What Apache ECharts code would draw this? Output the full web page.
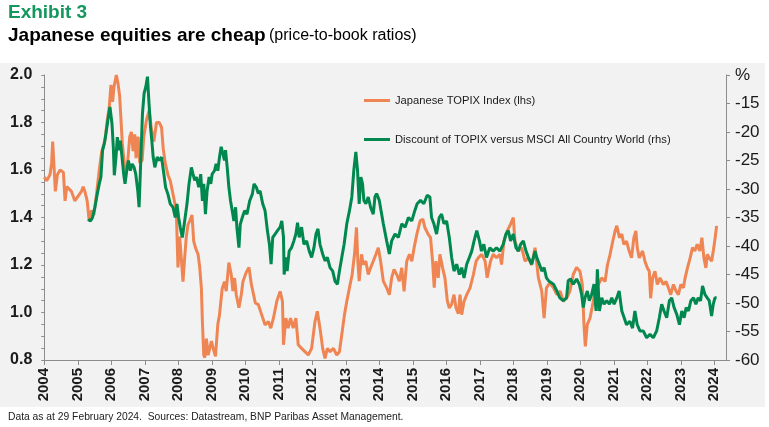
<!DOCTYPE html>
<html>
<head>
<meta charset="utf-8">
<script src="https://cdn.jsdelivr.net/npm/echarts@6/dist/echarts.min.js"></script>
<style>
html,body{margin:0;padding:0;background:#fff;}
#chart{width:769px;height:427px;}
</style>
</head>
<body>
<div id="chart"></div>
<script>
// Year ticks on the x axis
const yearTicks = [2004,2005,2006,2007,2008,2009,2010,2011,2012,2013,2014,2015,2016,2017,2018,2019,2020,2021,2022,2023,2024];
const leftTicks = [0.8,1.0,1.2,1.4,1.6,1.8,2.0];
const rightTicks = [-60,-55,-50,-45,-40,-35,-30,-25,-20,-15,-10];

// Japanese TOPIX Index price-to-book (lhs)
const topixYears = [
2004.00,2004.07,2004.17,2004.22,2004.25,2004.30,2004.33,2004.39,2004.47,2004.57,2004.62,2004.67,2004.81,2004.91,
2005.01,2005.11,2005.16,2005.21,2005.28,2005.34,2005.41,2005.48,2005.56,2005.64,2005.71,2005.81,2005.88,2005.94,2005.99,
2006.04,2006.08,2006.15,2006.20,2006.25,2006.33,2006.40,2006.47,2006.55,2006.60,2006.65,2006.70,2006.74,2006.80,2006.85,2006.92,2006.97,
2007.05,2007.13,2007.20,2007.27,2007.35,2007.43,2007.50,2007.55,2007.61,2007.69,2007.76,2007.84,2007.94,2007.99,
2008.04,2008.11,2008.14,2008.19,2008.24,2008.29,2008.34,2008.41,2008.46,2008.52,2008.59,2008.64,2008.69,2008.72,2008.76,2008.79,2008.84,2008.89,2008.94,2008.99,
2009.03,2009.11,2009.18,2009.23,2009.31,2009.38,2009.43,2009.51,2009.58,2009.63,2009.68,2009.73,2009.81,2009.88,2009.93,
2010.03,2010.11,2010.18,2010.30,2010.39,2010.49,2010.59,2010.69,2010.76,2010.84,2010.94,
2011.04,2011.11,2011.14,2011.21,2011.28,2011.35,2011.43,2011.51,2011.58,2011.68,2011.78,2011.88,2011.98,
2012.08,2012.15,2012.23,2012.31,2012.38,2012.45,2012.53,2012.63,2012.73,2012.81,2012.88,2012.96,
2013.03,2013.11,2013.19,2013.26,2013.32,2013.36,2013.40,2013.47,2013.52,2013.60,2013.67,2013.74,2013.82,2013.90,2013.97,
2014.04,2014.12,2014.22,2014.30,2014.37,2014.44,2014.52,2014.60,2014.67,2014.74,2014.82,2014.90,2014.97,
2015.04,2015.12,2015.22,2015.30,2015.36,2015.46,2015.53,2015.59,2015.64,2015.69,2015.76,2015.81,2015.89,2015.96,
2016.03,2016.09,2016.16,2016.23,2016.29,2016.36,2016.41,2016.46,2016.53,2016.61,2016.71,2016.81,2016.89,2016.96,
2017.06,2017.16,2017.22,2017.32,2017.40,2017.50,2017.60,2017.65,2017.72,2017.82,2017.92,
2018.00,2018.05,2018.15,2018.25,2018.35,2018.45,2018.55,2018.65,2018.75,2018.85,2018.92,2018.99,
2019.09,2019.20,2019.30,2019.40,2019.49,2019.59,2019.69,2019.79,2019.89,2019.99,
2020.06,2020.11,2020.15,2020.21,2020.29,2020.37,2020.44,2020.54,2020.64,2020.74,2020.81,2020.89,2020.97,
2021.04,2021.09,2021.17,2021.24,2021.30,2021.38,2021.46,2021.53,2021.60,2021.66,2021.70,2021.76,2021.86,2021.93,
2022.00,2022.06,2022.10,2022.16,2022.23,2022.30,2022.38,2022.48,2022.56,2022.63,2022.70,2022.78,2022.86,2022.93,
2023.00,2023.08,2023.13,2023.20,2023.28,2023.35,2023.42,2023.49,2023.57,2023.63,2023.69,2023.75,2023.79,2023.85,2023.92,2023.97,
2024.00,2024.04,2024.07
];
const topixValues = [
1.57,1.555,1.58,1.63,1.72,1.72,1.51,1.58,1.60,1.59,1.47,1.53,1.51,1.47,
1.49,1.51,1.53,1.51,1.47,1.385,1.43,1.41,1.50,1.60,1.675,1.725,1.81,1.866,1.958,
1.887,1.95,2.0,1.965,1.91,1.71,1.61,1.60,1.74,1.76,1.68,1.75,1.65,1.74,1.63,1.64,1.74,
1.81,1.85,1.77,1.72,1.80,1.80,1.78,1.69,1.63,1.58,1.555,1.50,1.43,1.19,
1.32,1.19,1.13,1.23,1.32,1.37,1.385,1.41,1.30,1.27,1.245,1.19,1.10,0.96,0.82,0.81,0.89,0.82,0.85,0.88,
0.855,0.815,0.95,0.99,1.10,1.13,1.09,1.21,1.16,1.09,1.145,1.075,1.02,1.075,1.13,
1.17,1.19,1.12,1.04,1.033,0.99,0.948,0.962,0.934,0.976,1.047,
1.089,1.047,0.864,0.976,0.934,0.976,0.934,0.976,0.864,0.849,0.835,0.821,0.849,
0.962,1.005,0.934,0.849,0.807,0.849,0.835,0.849,0.821,0.835,0.906,0.99,
1.047,1.104,1.16,1.245,1.358,1.216,1.132,1.245,1.202,1.216,1.16,1.188,1.216,1.245,1.273,
1.216,1.132,1.104,1.075,1.146,1.181,1.16,1.132,1.188,1.089,1.216,1.245,1.216,
1.273,1.329,1.386,1.393,1.358,1.329,1.315,1.216,1.105,1.216,1.146,1.245,1.188,1.146,
1.05,1.019,1.035,1.075,1.019,0.995,1.075,0.991,1.047,1.075,1.104,1.16,1.216,1.231,
1.245,1.216,1.146,1.216,1.245,1.231,1.245,1.202,1.30,1.344,1.372,
1.40,1.30,1.259,1.273,1.216,1.23,1.20,1.273,1.146,1.09,0.976,1.104,
1.125,1.104,1.075,1.09,1.047,1.06,1.09,1.16,1.19,1.174,
1.118,0.95,0.857,0.95,0.976,1.033,1.09,1.118,1.146,1.13,1.20,1.245,1.30,
1.344,1.365,1.315,1.33,1.287,1.30,1.259,1.23,1.315,1.344,1.273,1.23,1.259,1.216,
1.188,1.174,1.06,1.146,1.174,1.118,1.146,1.118,1.13,1.104,1.075,1.118,1.09,1.075,
1.118,1.104,1.146,1.188,1.23,1.273,1.259,1.287,1.259,1.315,1.23,1.188,1.245,1.23,1.216,1.259,
1.287,1.33,1.365
];

// Discount of TOPIX versus MSCI All Country World, % (rhs)
const discYears = [
2005.31,2005.38,2005.44,2005.51,2005.58,2005.64,2005.69,2005.74,2005.79,2005.84,2005.91,2005.96,
2006.02,2006.06,2006.09,2006.14,2006.18,2006.23,2006.27,2006.32,2006.37,2006.41,2006.46,2006.51,2006.57,2006.62,2006.68,2006.73,2006.79,2006.83,2006.88,2006.93,2006.98,
2007.03,2007.08,2007.12,2007.17,2007.21,2007.25,2007.30,2007.37,2007.43,2007.50,2007.57,2007.62,2007.69,2007.76,2007.84,2007.91,2007.96,
2008.01,2008.06,2008.12,2008.19,2008.26,2008.32,2008.39,2008.44,2008.49,2008.54,2008.61,2008.67,2008.72,2008.76,2008.81,2008.86,2008.92,2008.97,
2009.01,2009.08,2009.13,2009.18,2009.23,2009.28,2009.33,2009.38,2009.41,2009.46,2009.51,2009.56,2009.61,2009.66,2009.71,2009.75,2009.81,2009.85,2009.91,2009.98,
2010.05,2010.13,2010.21,2010.26,2010.33,2010.39,2010.44,2010.52,2010.59,2010.66,2010.72,2010.77,2010.82,2010.89,2010.96,
2011.04,2011.09,2011.14,2011.16,2011.22,2011.25,2011.31,2011.38,2011.45,2011.51,2011.56,2011.61,2011.68,2011.75,2011.83,2011.91,2011.98,
2012.05,2012.11,2012.17,2012.23,2012.31,2012.38,2012.45,2012.53,2012.61,2012.68,2012.75,2012.81,2012.88,2012.95,
2013.03,2013.11,2013.18,2013.24,2013.30,2013.35,2013.40,2013.45,2013.50,2013.54,2013.60,2013.67,2013.74,2013.82,2013.87,2013.92,
2014.00,2014.12,2014.22,2014.30,2014.37,2014.47,2014.57,2014.67,2014.77,2014.87,2014.97,
2015.06,2015.13,2015.23,2015.33,2015.43,2015.51,2015.56,2015.63,2015.71,2015.79,2015.86,2015.93,
2016.01,2016.09,2016.16,2016.23,2016.31,2016.39,2016.46,2016.53,2016.61,2016.69,2016.76,2016.83,2016.91,2016.99,
2017.05,2017.12,2017.20,2017.30,2017.40,2017.50,2017.60,2017.70,2017.78,2017.85,2017.92,
2018.00,2018.08,2018.15,2018.22,2018.30,2018.38,2018.45,2018.55,2018.65,2018.70,2018.78,2018.85,2018.92,2018.99,
2019.07,2019.20,2019.30,2019.39,2019.49,2019.59,2019.64,2019.71,2019.79,2019.89,2019.97,
2020.04,2020.09,2020.14,2020.21,2020.27,2020.34,2020.41,2020.47,2020.51,2020.57,2020.64,2020.71,2020.79,2020.87,2020.94,
2021.01,2021.09,2021.16,2021.24,2021.31,2021.38,2021.48,2021.56,2021.63,2021.70,2021.78,2021.88,2021.98,
2022.08,2022.18,2022.28,2022.36,2022.43,2022.50,2022.58,2022.66,2022.73,2022.80,2022.88,2022.96,
2023.03,2023.10,2023.16,2023.23,2023.30,2023.38,2023.45,2023.52,2023.59,2023.65,2023.72,2023.79,2023.85,2023.92,2023.97,
2024.02,2024.07
];
const discValues = [
-35.3,-35.6,-35.0,-33.2,-30.9,-29.1,-27.9,-23.2,-22.1,-20.3,-17.4,-15.6,
-18.5,-22.6,-27.6,-24.4,-20.9,-23.2,-21.5,-24.4,-27.4,-29.1,-26.8,-25.0,-26.8,-25.6,-26.2,-27.4,-30.3,-33.2,-25.0,-16.8,-13.2,
-12.1,-10.3,-14.4,-19.1,-21.5,-24.4,-26.2,-24.4,-25.0,-24.4,-27.4,-29.7,-30.9,-32.6,-33.2,-35.0,-32.6,
-35.0,-36.8,-38.5,-35.6,-32.6,-29.1,-26.2,-27.4,-28.5,-27.9,-29.7,-27.4,-32.1,-29.1,-34.4,-30.3,-27.9,-29.1,
-27.4,-26.8,-25.6,-26.8,-24.4,-22.6,-23.8,-25.0,-23.2,-26.2,-29.7,-32.1,-33.8,-35.6,-33.2,-36.8,-40.3,-36.2,-35.0,-33.8,
-34.4,-32.1,-30.9,-29.1,-29.7,-30.8,-30.3,-32.6,-33.8,-37.3,-39.7,-43.2,-38.5,-37.9,-37.3,
-36.7,-35.6,-38.5,-45.0,-42.0,-44.4,-40.9,-40.3,-39.1,-37.9,-35.9,-38.5,-36.7,-39.7,-39.1,-40.9,-42.0,
-40.3,-37.9,-37.0,-39.7,-41.4,-42.6,-42.0,-43.8,-44.4,-46.2,-46.7,-44.4,-42.0,-39.7,
-36.1,-33.8,-31.4,-26.7,-23.5,-26.7,-32.6,-27.9,-29.1,-32.0,-32.6,-31.4,-33.2,-34.4,-31.4,-30.8,
-32.0,-36.1,-39.1,-41.4,-39.1,-37.9,-38.5,-36.1,-36.7,-35.0,-35.6,
-33.8,-32.6,-32.0,-32.6,-31.1,-31.4,-35.0,-36.1,-37.9,-35.0,-34.4,-36.1,
-35.6,-38.5,-42.0,-44.4,-43.2,-45.0,-43.8,-45.6,-43.2,-42.0,-40.9,-39.1,-37.3,-39.1,
-40.9,-39.7,-42.0,-40.3,-40.9,-40.3,-40.9,-39.7,-37.9,-37.3,-39.1,
-37.9,-40.3,-40.9,-39.7,-39.1,-40.9,-42.0,-43.2,-40.9,-42.0,-43.2,-44.4,-43.8,-45.6,
-46.2,-46.7,-47.9,-49.1,-49.6,-49.1,-46.1,-45.8,-46.7,-45.8,-46.7,
-48.5,-50.8,-49.1,-47.9,-49.6,-48.5,-46.7,-51.4,-44.1,-51.4,-49.1,-50.2,-49.6,-50.2,-49.1,
-50.2,-49.1,-47.9,-51.4,-52.6,-53.8,-53.2,-54.4,-51.4,-53.8,-54.9,-54.9,-56.1,
-55.5,-56.1,-54.9,-52.6,-50.2,-51.4,-52.6,-49.6,-49.1,-50.8,-52.0,-53.8,
-51.4,-52.6,-50.8,-51.4,-49.6,-49.1,-50.2,-49.1,-49.6,-47.0,-48.5,-49.1,-49.6,-52.3,-50.2,
-49.1,-49.1
];

const ORANGE = '#EF8552';
const GREEN = '#00884F';
const AXIS = '#8c8c8c';
const TXT = '#1a1a1a';
const SANS = "'Liberation Sans',Arial,sans-serif";

const chart = echarts.init(document.getElementById('chart'), null, {renderer: 'canvas'});
const option = {
  animation: false,
  backgroundColor: '#ffffff',
  graphic: [
    {type: 'rect', z: -10, shape: {x: 0, y: 63, width: 765, height: 344}, style: {fill: '#f2f2f2'}, silent: true},
    {type: 'text', left: 8, top: 3, style: {text: 'Exhibit 3', fill: '#14985F', font: "bold 19px " + SANS}},
    {type: 'text', left: 8, top: 26, style: {
      text: '{a|Japanese equities are cheap} {b|(price-to-book ratios)}',
      rich: {
        a: {font: "bold 19px " + SANS, fill: '#000'},
        b: {font: "16px " + SANS, fill: '#000'}
      }
    }},
    {type: 'text', left: 8, top: 412, style: {text: 'Data as at 29 February 2024.  Sources: Datastream, BNP Paribas Asset Management.', fill: '#222', font: "10.3px " + SANS}}
  ],
  legend: {
    left: 359, top: 89, orient: 'vertical', itemGap: 26,
    icon: 'rect', itemWidth: 26, itemHeight: 3,
    textStyle: {color: TXT, fontFamily: SANS, fontSize: 11.2, lineHeight: 13},
    data: ['Japanese TOPIX Index (lhs)', 'Discount of TOPIX versus MSCI All Country World (rhs)']
  },
  grid: {left: 44.3, right: 43, top: 75, bottom: 67, containLabel: false},
  xAxis: {
    type: 'value', min: 2004, max: 2024.35,
    axisLine: {lineStyle: {color: AXIS, width: 1}},
    axisTick: {show: true, length: 5, lineStyle: {color: AXIS}, customValues: yearTicks},
    axisLabel: {rotate: 90, margin: 8, color: TXT, fontFamily: SANS, fontWeight: 'bold', fontSize: 15, customValues: yearTicks, formatter: v => String(v)},
    splitLine: {show: false}
  },
  yAxis: [
    {
      type: 'value', min: 0.8, max: 2.0, interval: 0.2, position: 'left',
      axisLine: {show: true, lineStyle: {color: AXIS}},
      axisTick: {show: true, length: 3, lineStyle: {color: AXIS}},
      minorTick: {show: true, splitNumber: 4, length: 3, lineStyle: {color: AXIS}},
      axisLabel: {margin: 12, color: TXT, fontFamily: SANS, fontWeight: 'bold', fontSize: 16, formatter: v => v.toFixed(1)},
      splitLine: {show: false}
    },
    {
      type: 'value', min: -60, max: -10, interval: 5, position: 'right',
      axisLine: {show: true, lineStyle: {color: AXIS}},
      axisTick: {show: true, length: 4, lineStyle: {color: AXIS}},
      axisLabel: {margin: 9, color: TXT, fontFamily: SANS, fontSize: 17, formatter: v => (v === -10 ? '%' : String(v))},
      splitLine: {show: false}
    }
  ],
  series: [
    {
      name: 'Japanese TOPIX Index (lhs)', type: 'line', yAxisIndex: 0,
      showSymbol: false, symbol: 'none', color: ORANGE,
      lineStyle: {color: ORANGE, width: 3},
      data: topixYears.map((y, i) => [y, topixValues[i]])
    },
    {
      name: 'Discount of TOPIX versus MSCI All Country World (rhs)', type: 'line', yAxisIndex: 1,
      showSymbol: false, symbol: 'none', color: GREEN,
      lineStyle: {color: GREEN, width: 3},
      data: discYears.map((y, i) => [y, discValues[i]])
    }
  ]
};
chart.setOption(option);
</script>
</body>
</html>
